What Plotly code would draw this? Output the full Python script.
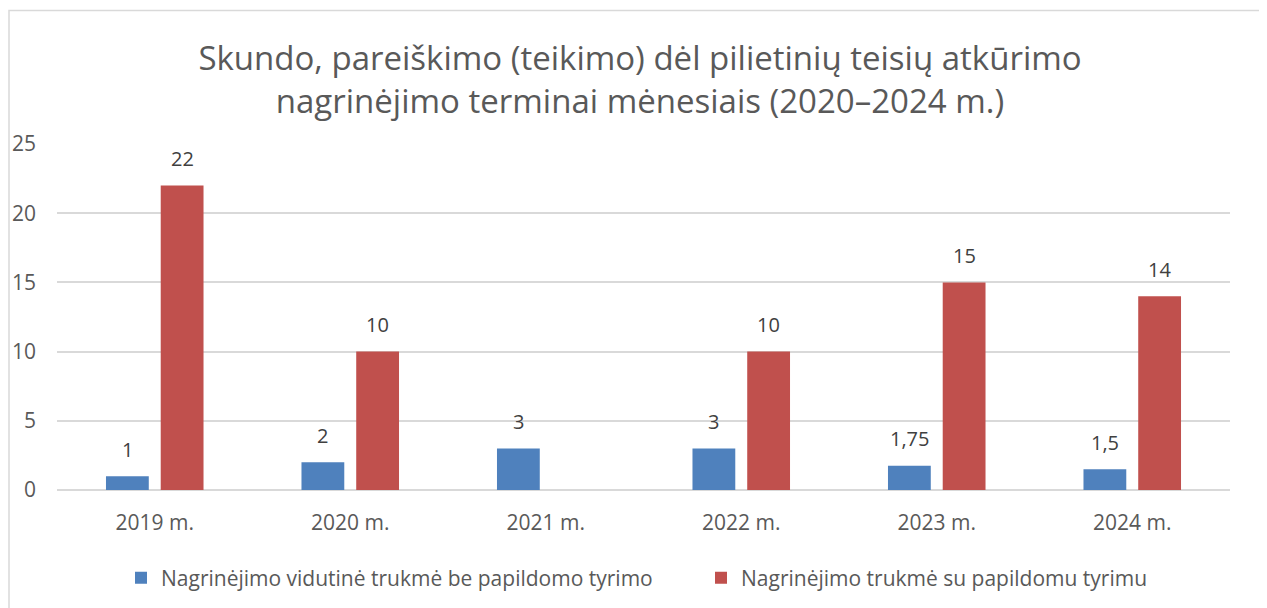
import plotly.graph_objects as go

categories = ["2019 m.", "2020 m.", "2021 m.", "2022 m.", "2023 m.", "2024 m."]
series_names = ["Nagrinėjimo vidutinė trukmė be papildomo tyrimo",
                "Nagrinėjimo trukmė su papildomu tyrimu"]
without_extra = [1, 2, 3, 3, 1.75, 1.5]
with_extra = [22, 10, None, 10, 15, 14]
colors = ["#4F81BD", "#C0504D"]
y_ticks = [0, 5, 10, 15, 20, 25]

FONT = "Open Sans, Liberation Sans, sans-serif"
TXT = "#595959"

def fmt(v):
    s = ("%g" % v)
    return s.replace(".", ",")

OFF = 8  # page body margin
W, H = 1267 - OFF, 608 - OFF
ml, mr, mt, mb = 57 - OFF, W - (1230 - OFF), 144 - OFF, H - (490 - OFF)
PW, PH = W - ml - mr, H - mt - mb

fig = go.Figure()
for name, vals, c in zip(series_names, [without_extra, with_extra], colors):
    fig.add_trace(go.Bar(x=categories, y=vals, name=name, marker_color=c,
                         marker_line_width=0))

annotations = []
for shift, vals in [(-27.5, without_extra), (27.5, with_extra)]:
    for cat, v in zip(categories, vals):
        if v is None:
            continue
        annotations.append(dict(x=cat, y=v, xref="x", yref="y", text=fmt(v),
                                showarrow=False, xshift=shift, yshift=27,
                                font=dict(family=FONT, size=20, color="#404040")))

fig.update_layout(
    width=W, height=H,
    margin=dict(l=ml, r=mr, t=mt, b=mb, autoexpand=False),
    paper_bgcolor="white", plot_bgcolor="white",
    title=dict(text="Skundo, pareiškimo (teikimo) dėl pilietinių teisių atkūrimo<br>nagrinėjimo terminai mėnesiais (2020–2024 m.)",
               x=(640 - OFF - ml) / PW, xanchor="center", xref="paper",
               yref="container", y=1 - (70 - OFF) / H, yanchor="middle",
               font=dict(family=FONT, size=33, color=TXT)),
    bargap=0.44, bargroupgap=0.218,
    showlegend=True,
    legend=dict(orientation="h", x=(701 - OFF - ml) / PW, xanchor="center", xref="paper",
                yref="container", y=1 - (578 - OFF) / H, yanchor="middle",
                font=dict(family=FONT, size=21, color=TXT),
                itemsizing="constant", entrywidth=535, entrywidthmode="pixels"),
    annotations=annotations,
    shapes=[dict(type="rect", xref="paper", yref="paper",
                 x0=-(ml - 1) / PW, x1=(W - ml + 20) / PW,
                 y0=-(mb + 20) / PH, y1=1 + (mt - (10.5 - OFF)) / PH,
                 line=dict(color="#D9D9D9", width=1.5), layer="below")],
)
fig.update_xaxes(showgrid=False, showline=False, ticks="", ticklabelstandoff=18,
                 automargin=False,
                 tickfont=dict(family=FONT, size=21, color=TXT))
fig.update_yaxes(range=[0, 25], tickvals=y_ticks, showgrid=True, gridcolor="#D9D9D9",
                 gridwidth=1.5, zeroline=True, zerolinecolor="#D9D9D9", zerolinewidth=1.5,
                 showline=False, ticks="", ticklabelstandoff=20, automargin=False,
                 tickfont=dict(family=FONT, size=21, color=TXT))

fig.write_html("out.html")
